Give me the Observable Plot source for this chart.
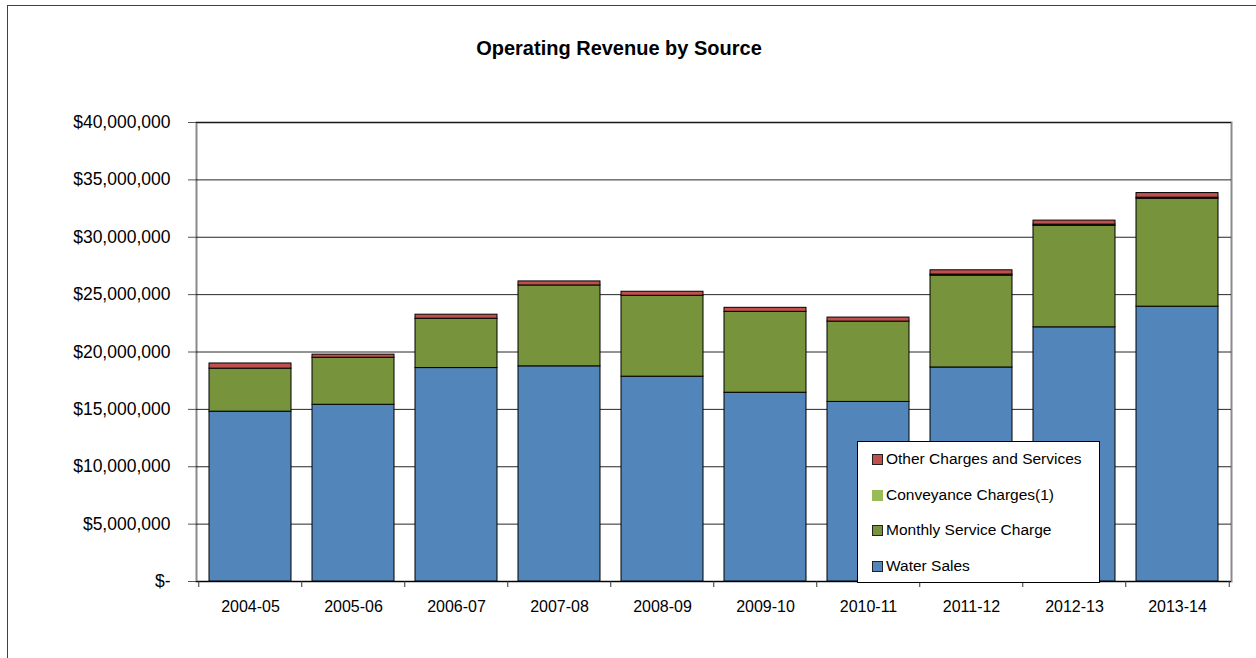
<!DOCTYPE html>
<html>
<head>
<meta charset="utf-8">
<script src="https://cdn.jsdelivr.net/npm/d3@7"></script>
<script src="https://cdn.jsdelivr.net/npm/@observablehq/plot@0.6"></script>
<style>
  body { margin: 0; background: #fff; font-family: "Liberation Sans", Arial, sans-serif; }
  #wrap { position: relative; width: 1256px; height: 658px; overflow: hidden; background: #fff; }
  #frame { position: absolute; left: 7px; top: 5px; width: 1300px; height: 700px; border: 1px solid #404040; }
  #title { position: absolute; left: 0; width: 1238px; top: 37px; text-align: center; font-weight: bold; font-size: 20px; color: #000; }
  #chart { position: absolute; left: 0; top: 0; }
  #legend { position: absolute; left: 857px; top: 441px; width: 243px; height: 142px; border: 1px solid #000; background: #fff; box-sizing: border-box; }
  .item { position: absolute; left: 14px; height: 20px; font-size: 15.5px; display: flex; align-items: center; color: #000; white-space: nowrap; }
  .sw { width: 9px; height: 9px; margin-right: 3px; box-sizing: content-box; }
</style>
</head>
<body>
<div id="wrap">
  <div id="frame"></div>
  <div id="chart"></div>
  <div id="title">Operating Revenue by Source</div>
  <div id="legend"></div>
</div>
<script>
// ---- Data (dollars) ----
const years = ["2004-05", "2005-06", "2006-07", "2007-08", "2008-09", "2009-10", "2010-11", "2011-12", "2012-13", "2013-14"];
const waterSales     = [14800000, 15400000, 18600000, 18750000, 17850000, 16450000, 15650000, 18650000, 22150000, 23950000];
const monthlyService = [3750000, 4100000, 4300000, 7050000, 7050000, 7050000, 7000000, 8000000, 8850000, 9400000];
const conveyance     = [0, 0, 0, 0, 0, 0, 0, 100000, 100000, 100000];
const otherCharges   = [450000, 270000, 350000, 350000, 350000, 350000, 350000, 370000, 350000, 400000];
const sourceNames = ["Water Sales", "Monthly Service Charge", "Conveyance Charges(1)", "Other Charges and Services"];
const sourceColors = ["#5285BA", "#77933C", "#9BBB59", "#C0504D"];
const yTicks = [0, 5000000, 10000000, 15000000, 20000000, 25000000, 30000000, 35000000, 40000000];

const seriesValues = [waterSales, monthlyService, conveyance, otherCharges];
const data = [];
sourceNames.forEach((name, s) => years.forEach((yr, i) => data.push({year: yr, source: name, value: seriesValues[s][i]})));

const W = 1256, H = 658;
const mL = 196, mR = 25, mT = 122, mB = 77;
const padInner = 0.2, padOuter = 0.1;
const step = (W - mL - mR) / (years.length - padInner + 2 * padOuter);
const tickLen = 6 * 40000000 / (H - mT - mB); // 6px expressed in data units

const fmt = d3.format(",");
const plot = Plot.plot({
  width: W, height: H,
  marginLeft: mL, marginRight: mR, marginTop: mT, marginBottom: mB,
  style: {fontFamily: "'Liberation Sans', Arial, sans-serif", background: "transparent", overflow: "visible", color: "#000"},
  x: {domain: years, paddingInner: padInner, paddingOuter: padOuter, label: null},
  y: {domain: [0, 40000000], label: null},
  color: {domain: sourceNames, range: sourceColors},
  marks: [
    Plot.frame({stroke: "#8a8a8a", strokeWidth: 2}),
    Plot.gridY(yTicks, {stroke: "#000", strokeOpacity: 0.85, strokeWidth: 1}),
    Plot.barY(data, {x: "year", y: "value", fill: "source", stroke: "#000", strokeWidth: 1, order: sourceNames}),
    Plot.ruleY([0], {stroke: "#000", strokeWidth: 1.2}),
    Plot.ruleX(years, {x: d => d, y1: 0, y2: -tickLen, dx: -step / 2, stroke: "#333"}),
    Plot.ruleX([years[years.length - 1]], {x: d => d, y1: 0, y2: -tickLen, dx: step / 2, stroke: "#333"}),
    Plot.axisY(yTicks, {tickSize: 8, tickPadding: 18, stroke: "#555", fontSize: 17.5, tickFormat: d => d === 0 ? "$-" : "$" + fmt(d)}),
    Plot.axisX({tickSize: 0, tickPadding: 19, fontSize: 16})
  ]
});
document.getElementById("chart").appendChild(plot);

// ---- Legend ----
const legend = document.getElementById("legend");
const order = [3, 2, 1, 0];
const rowTops = [7, 43, 78, 114];
order.forEach((s, k) => {
  const it = document.createElement("div");
  it.className = "item";
  it.style.top = rowTops[k] + "px";
  const sw = document.createElement("span");
  sw.className = "sw";
  sw.style.background = sourceColors[s];
  sw.style.border = s === 2 ? "1px solid " + sourceColors[s] : "1px solid #222";
  it.appendChild(sw);
  it.appendChild(document.createTextNode(sourceNames[s]));
  legend.appendChild(it);
});
</script>
</body>
</html>
